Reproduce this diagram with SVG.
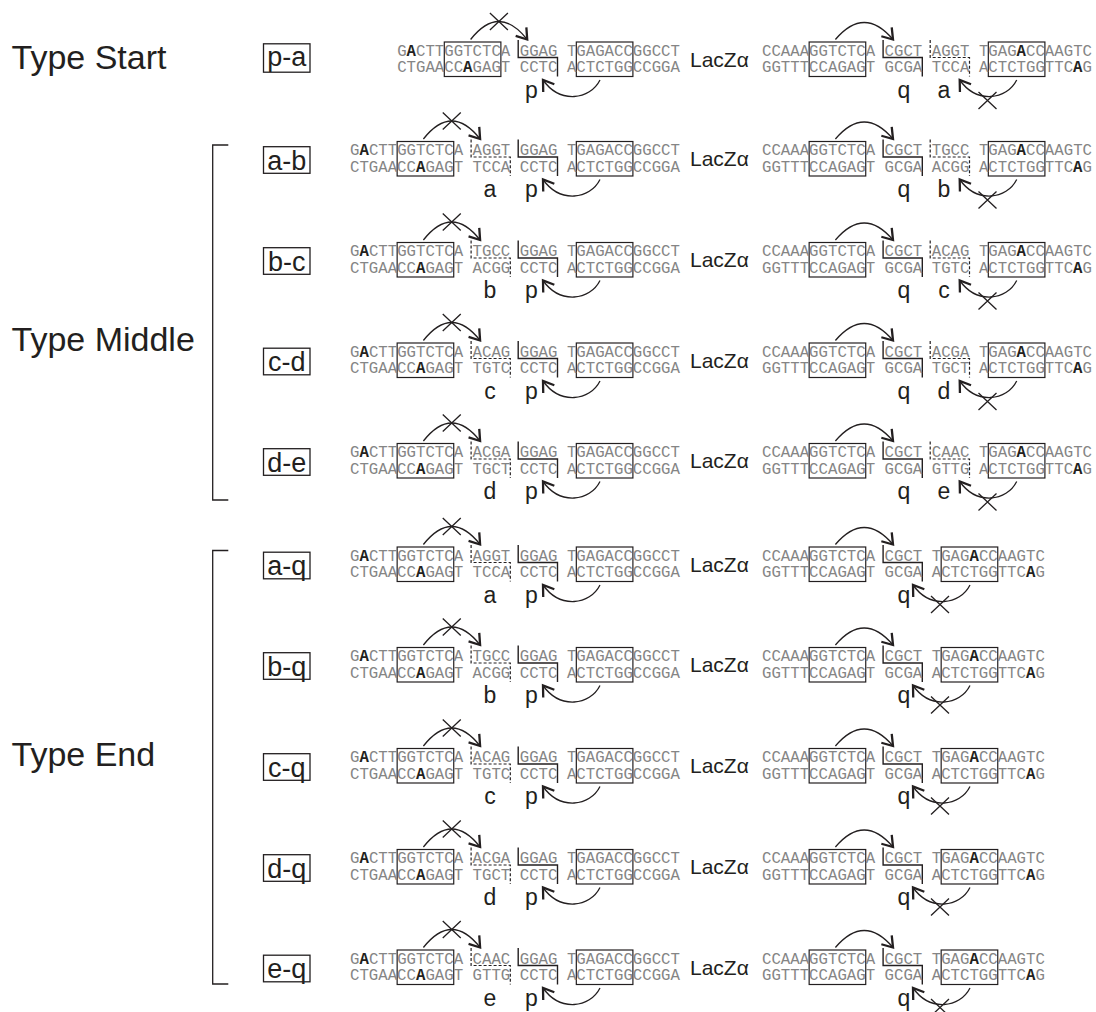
<svg xmlns="http://www.w3.org/2000/svg" xmlns:xlink="http://www.w3.org/1999/xlink" width="1096" height="1012" viewBox="0 0 1096 1012">
<style>
.seq{font-family:"Liberation Mono","Courier New",monospace;font-size:15.715px;fill:#858585}
.b{font-weight:bold;fill:#231f20}
.box{fill:none;stroke:#231f20;stroke-width:1.2}
.brk{fill:none;stroke:#231f20;stroke-width:1.4}
.dash{fill:none;stroke:#231f20;stroke-width:1.2;stroke-dasharray:3 2}
.arc{fill:none;stroke:#231f20;stroke-width:1.3;marker-end:url(#ah)}
.x{fill:none;stroke:#231f20;stroke-width:1.3}
.sans{font-family:"Liberation Sans",Arial,sans-serif;fill:#231f20}
.lab{font-size:23px;text-anchor:middle}
.lacz{font-size:21px}
.type{font-size:34px}
.tag{font-size:27px;text-anchor:middle}
.tagbox{fill:none;stroke:#231f20;stroke-width:1.3}
.brace{fill:none;stroke:#231f20;stroke-width:1.3}
</style>
<defs>
<marker id="ah" markerUnits="userSpaceOnUse" orient="auto" markerWidth="28" markerHeight="28" viewBox="-14 -14 28 28" refX="0" refY="0">
<path d="M-10,-6.8 L0,0 L-10,6.8" fill="none" stroke="#231f20" stroke-width="2.3"/>
</marker>
<g id="L-mid">
<rect class="box" x="397.15" y="-13.5" width="56.58" height="34.5"/>
<rect class="box" x="576.32" y="-13.5" width="56.58" height="34.5"/>
<path class="brk" d="M518.2,-15.5V2H557.5V21"/>
<path class="dash" d="M471.1,-15.5V2H510.3V21"/>
</g>
<g id="L-start">
<rect class="box" x="444.3" y="-13.5" width="56.58" height="34.5"/>
<rect class="box" x="576.32" y="-13.5" width="56.58" height="34.5"/>
<path class="brk" d="M518.2,-15.5V2H557.5V21"/>
</g>
<g id="R-mid">
<rect class="box" x="809.15" y="-13.5" width="56.58" height="34.5"/>
<rect class="box" x="988.32" y="-13.5" width="56.58" height="34.5"/>
<path class="brk" d="M883.1,-15.5V2H922.3V21"/>
<path class="dash" d="M930.2,-15.5V2H969.5V21"/>
</g>
<g id="R-end">
<rect class="box" x="809.15" y="-13.5" width="56.58" height="34.5"/>
<rect class="box" x="941.17" y="-13.5" width="56.58" height="34.5"/>
<path class="brk" d="M883.1,-15.5V2H922.3V21"/>
</g>
<g id="C-start">
<path class="arc" d="M470.6,-16 Q498.9,-52 527.2,-16"/>
<path class="x" d="M489.9,-42.5L507.9,-25.5M507.9,-42.5L489.9,-25.5"/>
<path class="arc" d="M835.4,-16 Q864.2,-50 893,-16"/>
<path class="arc" d="M600,24.5 C590,44.5 560,48.5 543,24.5"/>
<path class="arc" d="M1016.7,24.5 C1006.7,44.5 976.7,48.5 959.7,24.5"/>
<path class="x" d="M978.5,36.5L996.5,53.5M996.5,36.5L978.5,53.5"/>
</g>
<g id="C-mid">
<path class="arc" d="M423.4,-16 Q451.75,-52 480.1,-16"/>
<path class="x" d="M442.75,-42.5L460.75,-25.5M460.75,-42.5L442.75,-25.5"/>
<path class="arc" d="M835.4,-16 Q864.2,-50 893,-16"/>
<path class="arc" d="M600,24.5 C590,44.5 560,48.5 543,24.5"/>
<path class="arc" d="M1016.7,24.5 C1006.7,44.5 976.7,48.5 959.7,24.5"/>
<path class="x" d="M978.5,36.5L996.5,53.5M996.5,36.5L978.5,53.5"/>
</g>
<g id="C-end">
<path class="arc" d="M423.4,-16 Q451.75,-52 480.1,-16"/>
<path class="x" d="M442.75,-42.5L460.75,-25.5M460.75,-42.5L442.75,-25.5"/>
<path class="arc" d="M835.4,-16 Q864.2,-50 893,-16"/>
<path class="arc" d="M600,24.5 C590,44.5 560,48.5 543,24.5"/>
<path class="arc" d="M970,24.5 C960,44.5 930,48.5 913,24.5"/>
<path class="x" d="M931,35.5L949,52.5M949,35.5L931,52.5"/>
</g>
</defs>

<g id="type-labels" class="sans">
<text class="type" x="11.5" y="68.5">Type Start</text>
<text class="type" x="11.5" y="351">Type Middle</text>
<text class="type" x="11.5" y="766">Type End</text>
</g>
<g id="brackets">
<path class="brace" d="M228.3,145H212.7V500H228.3"/>
<path class="brace" d="M228.3,550.5H212.7V984H228.3"/>
</g>

<!-- Type Start -->
<g id="row-p-a" transform="translate(0,55.5)">
<rect class="tagbox" x="263.5" y="-11.7" width="46.5" height="28.4"/>
<text class="sans tag" x="286.75" y="10">p-a</text>
<use xlink:href="#L-start"/><use xlink:href="#R-mid"/>
<text class="seq"><tspan x="397.15">G<tspan class="b">A</tspan>CTTGGTCTCA</tspan><tspan x="519.74">GGAG</tspan><tspan x="566.89">TGAGACCGGCCT</tspan></text>
<text class="seq" y="16.5"><tspan x="397.15">CTGAACC<tspan class="b">A</tspan>GAGT</tspan><tspan x="519.74">CCTC</tspan><tspan x="566.89">ACTCTGGCCGGA</tspan></text>
<text class="sans lacz" x="690" y="11">LacZα</text>
<text class="seq"><tspan x="762">CCAAAGGTCTCA</tspan><tspan x="884.59">CGCT</tspan><tspan x="931.74">AGGT</tspan><tspan x="978.89">TGAG<tspan class="b">A</tspan>CCAAGTC</tspan></text>
<text class="seq" y="16.5"><tspan x="762">GGTTTCCAGAGT</tspan><tspan x="884.59">GCGA</tspan><tspan x="931.74">TCCA</tspan><tspan x="978.89">ACTCTGGTTC<tspan class="b">A</tspan>G</tspan></text>
<text class="sans lab" x="531.5" y="42">p</text>
<text class="sans lab" x="904" y="42">q</text>
<text class="sans lab" x="944" y="42">a</text>
<g class="connectors"><use xlink:href="#C-start"/></g>
</g>

<!-- Type Middle -->
<g id="row-a-b" transform="translate(0,155)">
<rect class="tagbox" x="263.5" y="-8.3" width="46.5" height="26.6"/>
<text class="sans tag" x="286.75" y="14.5">a-b</text>
<use xlink:href="#L-mid"/><use xlink:href="#R-mid"/>
<text class="seq"><tspan x="350">G<tspan class="b">A</tspan>CTTGGTCTCA</tspan><tspan x="472.59">AGGT</tspan><tspan x="519.74">GGAG</tspan><tspan x="566.89">TGAGACCGGCCT</tspan></text>
<text class="seq" y="16.5"><tspan x="350">CTGAACC<tspan class="b">A</tspan>GAGT</tspan><tspan x="472.59">TCCA</tspan><tspan x="519.74">CCTC</tspan><tspan x="566.89">ACTCTGGCCGGA</tspan></text>
<text class="sans lacz" x="690" y="11">LacZα</text>
<text class="seq"><tspan x="762">CCAAAGGTCTCA</tspan><tspan x="884.59">CGCT</tspan><tspan x="931.74">TGCC</tspan><tspan x="978.89">TGAG<tspan class="b">A</tspan>CCAAGTC</tspan></text>
<text class="seq" y="16.5"><tspan x="762">GGTTTCCAGAGT</tspan><tspan x="884.59">GCGA</tspan><tspan x="931.74">ACGG</tspan><tspan x="978.89">ACTCTGGTTC<tspan class="b">A</tspan>G</tspan></text>
<text class="sans lab" x="490" y="42">a</text>
<text class="sans lab" x="531.5" y="42">p</text>
<text class="sans lab" x="904" y="42">q</text>
<text class="sans lab" x="944" y="42">b</text>
<g class="connectors"><use xlink:href="#C-mid"/></g>
</g>

<g id="row-b-c" transform="translate(0,256)">
<rect class="tagbox" x="263.5" y="-8.3" width="46.5" height="26.6"/>
<text class="sans tag" x="286.75" y="14.5">b-c</text>
<use xlink:href="#L-mid"/><use xlink:href="#R-mid"/>
<text class="seq"><tspan x="350">G<tspan class="b">A</tspan>CTTGGTCTCA</tspan><tspan x="472.59">TGCC</tspan><tspan x="519.74">GGAG</tspan><tspan x="566.89">TGAGACCGGCCT</tspan></text>
<text class="seq" y="16.5"><tspan x="350">CTGAACC<tspan class="b">A</tspan>GAGT</tspan><tspan x="472.59">ACGG</tspan><tspan x="519.74">CCTC</tspan><tspan x="566.89">ACTCTGGCCGGA</tspan></text>
<text class="sans lacz" x="690" y="11">LacZα</text>
<text class="seq"><tspan x="762">CCAAAGGTCTCA</tspan><tspan x="884.59">CGCT</tspan><tspan x="931.74">ACAG</tspan><tspan x="978.89">TGAG<tspan class="b">A</tspan>CCAAGTC</tspan></text>
<text class="seq" y="16.5"><tspan x="762">GGTTTCCAGAGT</tspan><tspan x="884.59">GCGA</tspan><tspan x="931.74">TGTC</tspan><tspan x="978.89">ACTCTGGTTC<tspan class="b">A</tspan>G</tspan></text>
<text class="sans lab" x="490" y="42">b</text>
<text class="sans lab" x="531.5" y="42">p</text>
<text class="sans lab" x="904" y="42">q</text>
<text class="sans lab" x="944" y="42">c</text>
<g class="connectors"><use xlink:href="#C-mid"/></g>
</g>

<g id="row-c-d" transform="translate(0,356.5)">
<rect class="tagbox" x="263.5" y="-8.3" width="46.5" height="26.6"/>
<text class="sans tag" x="286.75" y="14.5">c-d</text>
<use xlink:href="#L-mid"/><use xlink:href="#R-mid"/>
<text class="seq"><tspan x="350">G<tspan class="b">A</tspan>CTTGGTCTCA</tspan><tspan x="472.59">ACAG</tspan><tspan x="519.74">GGAG</tspan><tspan x="566.89">TGAGACCGGCCT</tspan></text>
<text class="seq" y="16.5"><tspan x="350">CTGAACC<tspan class="b">A</tspan>GAGT</tspan><tspan x="472.59">TGTC</tspan><tspan x="519.74">CCTC</tspan><tspan x="566.89">ACTCTGGCCGGA</tspan></text>
<text class="sans lacz" x="690" y="11">LacZα</text>
<text class="seq"><tspan x="762">CCAAAGGTCTCA</tspan><tspan x="884.59">CGCT</tspan><tspan x="931.74">ACGA</tspan><tspan x="978.89">TGAG<tspan class="b">A</tspan>CCAAGTC</tspan></text>
<text class="seq" y="16.5"><tspan x="762">GGTTTCCAGAGT</tspan><tspan x="884.59">GCGA</tspan><tspan x="931.74">TGCT</tspan><tspan x="978.89">ACTCTGGTTC<tspan class="b">A</tspan>G</tspan></text>
<text class="sans lab" x="490" y="42">c</text>
<text class="sans lab" x="531.5" y="42">p</text>
<text class="sans lab" x="904" y="42">q</text>
<text class="sans lab" x="944" y="42">d</text>
<g class="connectors"><use xlink:href="#C-mid"/></g>
</g>

<g id="row-d-e" transform="translate(0,457)">
<rect class="tagbox" x="263.5" y="-8.3" width="46.5" height="26.6"/>
<text class="sans tag" x="286.75" y="14.5">d-e</text>
<use xlink:href="#L-mid"/><use xlink:href="#R-mid"/>
<text class="seq"><tspan x="350">G<tspan class="b">A</tspan>CTTGGTCTCA</tspan><tspan x="472.59">ACGA</tspan><tspan x="519.74">GGAG</tspan><tspan x="566.89">TGAGACCGGCCT</tspan></text>
<text class="seq" y="16.5"><tspan x="350">CTGAACC<tspan class="b">A</tspan>GAGT</tspan><tspan x="472.59">TGCT</tspan><tspan x="519.74">CCTC</tspan><tspan x="566.89">ACTCTGGCCGGA</tspan></text>
<text class="sans lacz" x="690" y="11">LacZα</text>
<text class="seq"><tspan x="762">CCAAAGGTCTCA</tspan><tspan x="884.59">CGCT</tspan><tspan x="931.74">CAAC</tspan><tspan x="978.89">TGAG<tspan class="b">A</tspan>CCAAGTC</tspan></text>
<text class="seq" y="16.5"><tspan x="762">GGTTTCCAGAGT</tspan><tspan x="884.59">GCGA</tspan><tspan x="931.74">GTTG</tspan><tspan x="978.89">ACTCTGGTTC<tspan class="b">A</tspan>G</tspan></text>
<text class="sans lab" x="490" y="42">d</text>
<text class="sans lab" x="531.5" y="42">p</text>
<text class="sans lab" x="904" y="42">q</text>
<text class="sans lab" x="944" y="42">e</text>
<g class="connectors"><use xlink:href="#C-mid"/></g>
</g>

<!-- Type End -->
<g id="row-a-q" transform="translate(0,560.5)">
<rect class="tagbox" x="263.5" y="-8.3" width="46.5" height="26.6"/>
<text class="sans tag" x="286.75" y="14.5">a-q</text>
<use xlink:href="#L-mid"/><use xlink:href="#R-end"/>
<text class="seq"><tspan x="350">G<tspan class="b">A</tspan>CTTGGTCTCA</tspan><tspan x="472.59">AGGT</tspan><tspan x="519.74">GGAG</tspan><tspan x="566.89">TGAGACCGGCCT</tspan></text>
<text class="seq" y="16.5"><tspan x="350">CTGAACC<tspan class="b">A</tspan>GAGT</tspan><tspan x="472.59">TCCA</tspan><tspan x="519.74">CCTC</tspan><tspan x="566.89">ACTCTGGCCGGA</tspan></text>
<text class="sans lacz" x="690" y="11">LacZα</text>
<text class="seq"><tspan x="762">CCAAAGGTCTCA</tspan><tspan x="884.59">CGCT</tspan><tspan x="931.74">TGAG<tspan class="b">A</tspan>CCAAGTC</tspan></text>
<text class="seq" y="16.5"><tspan x="762">GGTTTCCAGAGT</tspan><tspan x="884.59">GCGA</tspan><tspan x="931.74">ACTCTGGTTC<tspan class="b">A</tspan>G</tspan></text>
<text class="sans lab" x="490" y="42">a</text>
<text class="sans lab" x="531.5" y="42">p</text>
<text class="sans lab" x="904" y="42">q</text>
<g class="connectors"><use xlink:href="#C-end"/></g>
</g>

<g id="row-b-q" transform="translate(0,661)">
<rect class="tagbox" x="263.5" y="-8.3" width="46.5" height="26.6"/>
<text class="sans tag" x="286.75" y="14.5">b-q</text>
<use xlink:href="#L-mid"/><use xlink:href="#R-end"/>
<text class="seq"><tspan x="350">G<tspan class="b">A</tspan>CTTGGTCTCA</tspan><tspan x="472.59">TGCC</tspan><tspan x="519.74">GGAG</tspan><tspan x="566.89">TGAGACCGGCCT</tspan></text>
<text class="seq" y="16.5"><tspan x="350">CTGAACC<tspan class="b">A</tspan>GAGT</tspan><tspan x="472.59">ACGG</tspan><tspan x="519.74">CCTC</tspan><tspan x="566.89">ACTCTGGCCGGA</tspan></text>
<text class="sans lacz" x="690" y="11">LacZα</text>
<text class="seq"><tspan x="762">CCAAAGGTCTCA</tspan><tspan x="884.59">CGCT</tspan><tspan x="931.74">TGAG<tspan class="b">A</tspan>CCAAGTC</tspan></text>
<text class="seq" y="16.5"><tspan x="762">GGTTTCCAGAGT</tspan><tspan x="884.59">GCGA</tspan><tspan x="931.74">ACTCTGGTTC<tspan class="b">A</tspan>G</tspan></text>
<text class="sans lab" x="490" y="42">b</text>
<text class="sans lab" x="531.5" y="42">p</text>
<text class="sans lab" x="904" y="42">q</text>
<g class="connectors"><use xlink:href="#C-end"/></g>
</g>

<g id="row-c-q" transform="translate(0,762)">
<rect class="tagbox" x="263.5" y="-8.3" width="46.5" height="26.6"/>
<text class="sans tag" x="286.75" y="14.5">c-q</text>
<use xlink:href="#L-mid"/><use xlink:href="#R-end"/>
<text class="seq"><tspan x="350">G<tspan class="b">A</tspan>CTTGGTCTCA</tspan><tspan x="472.59">ACAG</tspan><tspan x="519.74">GGAG</tspan><tspan x="566.89">TGAGACCGGCCT</tspan></text>
<text class="seq" y="16.5"><tspan x="350">CTGAACC<tspan class="b">A</tspan>GAGT</tspan><tspan x="472.59">TGTC</tspan><tspan x="519.74">CCTC</tspan><tspan x="566.89">ACTCTGGCCGGA</tspan></text>
<text class="sans lacz" x="690" y="11">LacZα</text>
<text class="seq"><tspan x="762">CCAAAGGTCTCA</tspan><tspan x="884.59">CGCT</tspan><tspan x="931.74">TGAG<tspan class="b">A</tspan>CCAAGTC</tspan></text>
<text class="seq" y="16.5"><tspan x="762">GGTTTCCAGAGT</tspan><tspan x="884.59">GCGA</tspan><tspan x="931.74">ACTCTGGTTC<tspan class="b">A</tspan>G</tspan></text>
<text class="sans lab" x="490" y="42">c</text>
<text class="sans lab" x="531.5" y="42">p</text>
<text class="sans lab" x="904" y="42">q</text>
<g class="connectors"><use xlink:href="#C-end"/></g>
</g>

<g id="row-d-q" transform="translate(0,863)">
<rect class="tagbox" x="263.5" y="-8.3" width="46.5" height="26.6"/>
<text class="sans tag" x="286.75" y="14.5">d-q</text>
<use xlink:href="#L-mid"/><use xlink:href="#R-end"/>
<text class="seq"><tspan x="350">G<tspan class="b">A</tspan>CTTGGTCTCA</tspan><tspan x="472.59">ACGA</tspan><tspan x="519.74">GGAG</tspan><tspan x="566.89">TGAGACCGGCCT</tspan></text>
<text class="seq" y="16.5"><tspan x="350">CTGAACC<tspan class="b">A</tspan>GAGT</tspan><tspan x="472.59">TGCT</tspan><tspan x="519.74">CCTC</tspan><tspan x="566.89">ACTCTGGCCGGA</tspan></text>
<text class="sans lacz" x="690" y="11">LacZα</text>
<text class="seq"><tspan x="762">CCAAAGGTCTCA</tspan><tspan x="884.59">CGCT</tspan><tspan x="931.74">TGAG<tspan class="b">A</tspan>CCAAGTC</tspan></text>
<text class="seq" y="16.5"><tspan x="762">GGTTTCCAGAGT</tspan><tspan x="884.59">GCGA</tspan><tspan x="931.74">ACTCTGGTTC<tspan class="b">A</tspan>G</tspan></text>
<text class="sans lab" x="490" y="42">d</text>
<text class="sans lab" x="531.5" y="42">p</text>
<text class="sans lab" x="904" y="42">q</text>
<g class="connectors"><use xlink:href="#C-end"/></g>
</g>

<g id="row-e-q" transform="translate(0,963.5)">
<rect class="tagbox" x="263.5" y="-8.3" width="46.5" height="26.6"/>
<text class="sans tag" x="286.75" y="14.5">e-q</text>
<use xlink:href="#L-mid"/><use xlink:href="#R-end"/>
<text class="seq"><tspan x="350">G<tspan class="b">A</tspan>CTTGGTCTCA</tspan><tspan x="472.59">CAAC</tspan><tspan x="519.74">GGAG</tspan><tspan x="566.89">TGAGACCGGCCT</tspan></text>
<text class="seq" y="16.5"><tspan x="350">CTGAACC<tspan class="b">A</tspan>GAGT</tspan><tspan x="472.59">GTTG</tspan><tspan x="519.74">CCTC</tspan><tspan x="566.89">ACTCTGGCCGGA</tspan></text>
<text class="sans lacz" x="690" y="11">LacZα</text>
<text class="seq"><tspan x="762">CCAAAGGTCTCA</tspan><tspan x="884.59">CGCT</tspan><tspan x="931.74">TGAG<tspan class="b">A</tspan>CCAAGTC</tspan></text>
<text class="seq" y="16.5"><tspan x="762">GGTTTCCAGAGT</tspan><tspan x="884.59">GCGA</tspan><tspan x="931.74">ACTCTGGTTC<tspan class="b">A</tspan>G</tspan></text>
<text class="sans lab" x="490" y="42">e</text>
<text class="sans lab" x="531.5" y="42">p</text>
<text class="sans lab" x="904" y="42">q</text>
<g class="connectors"><use xlink:href="#C-end"/></g>
</g>
</svg>
